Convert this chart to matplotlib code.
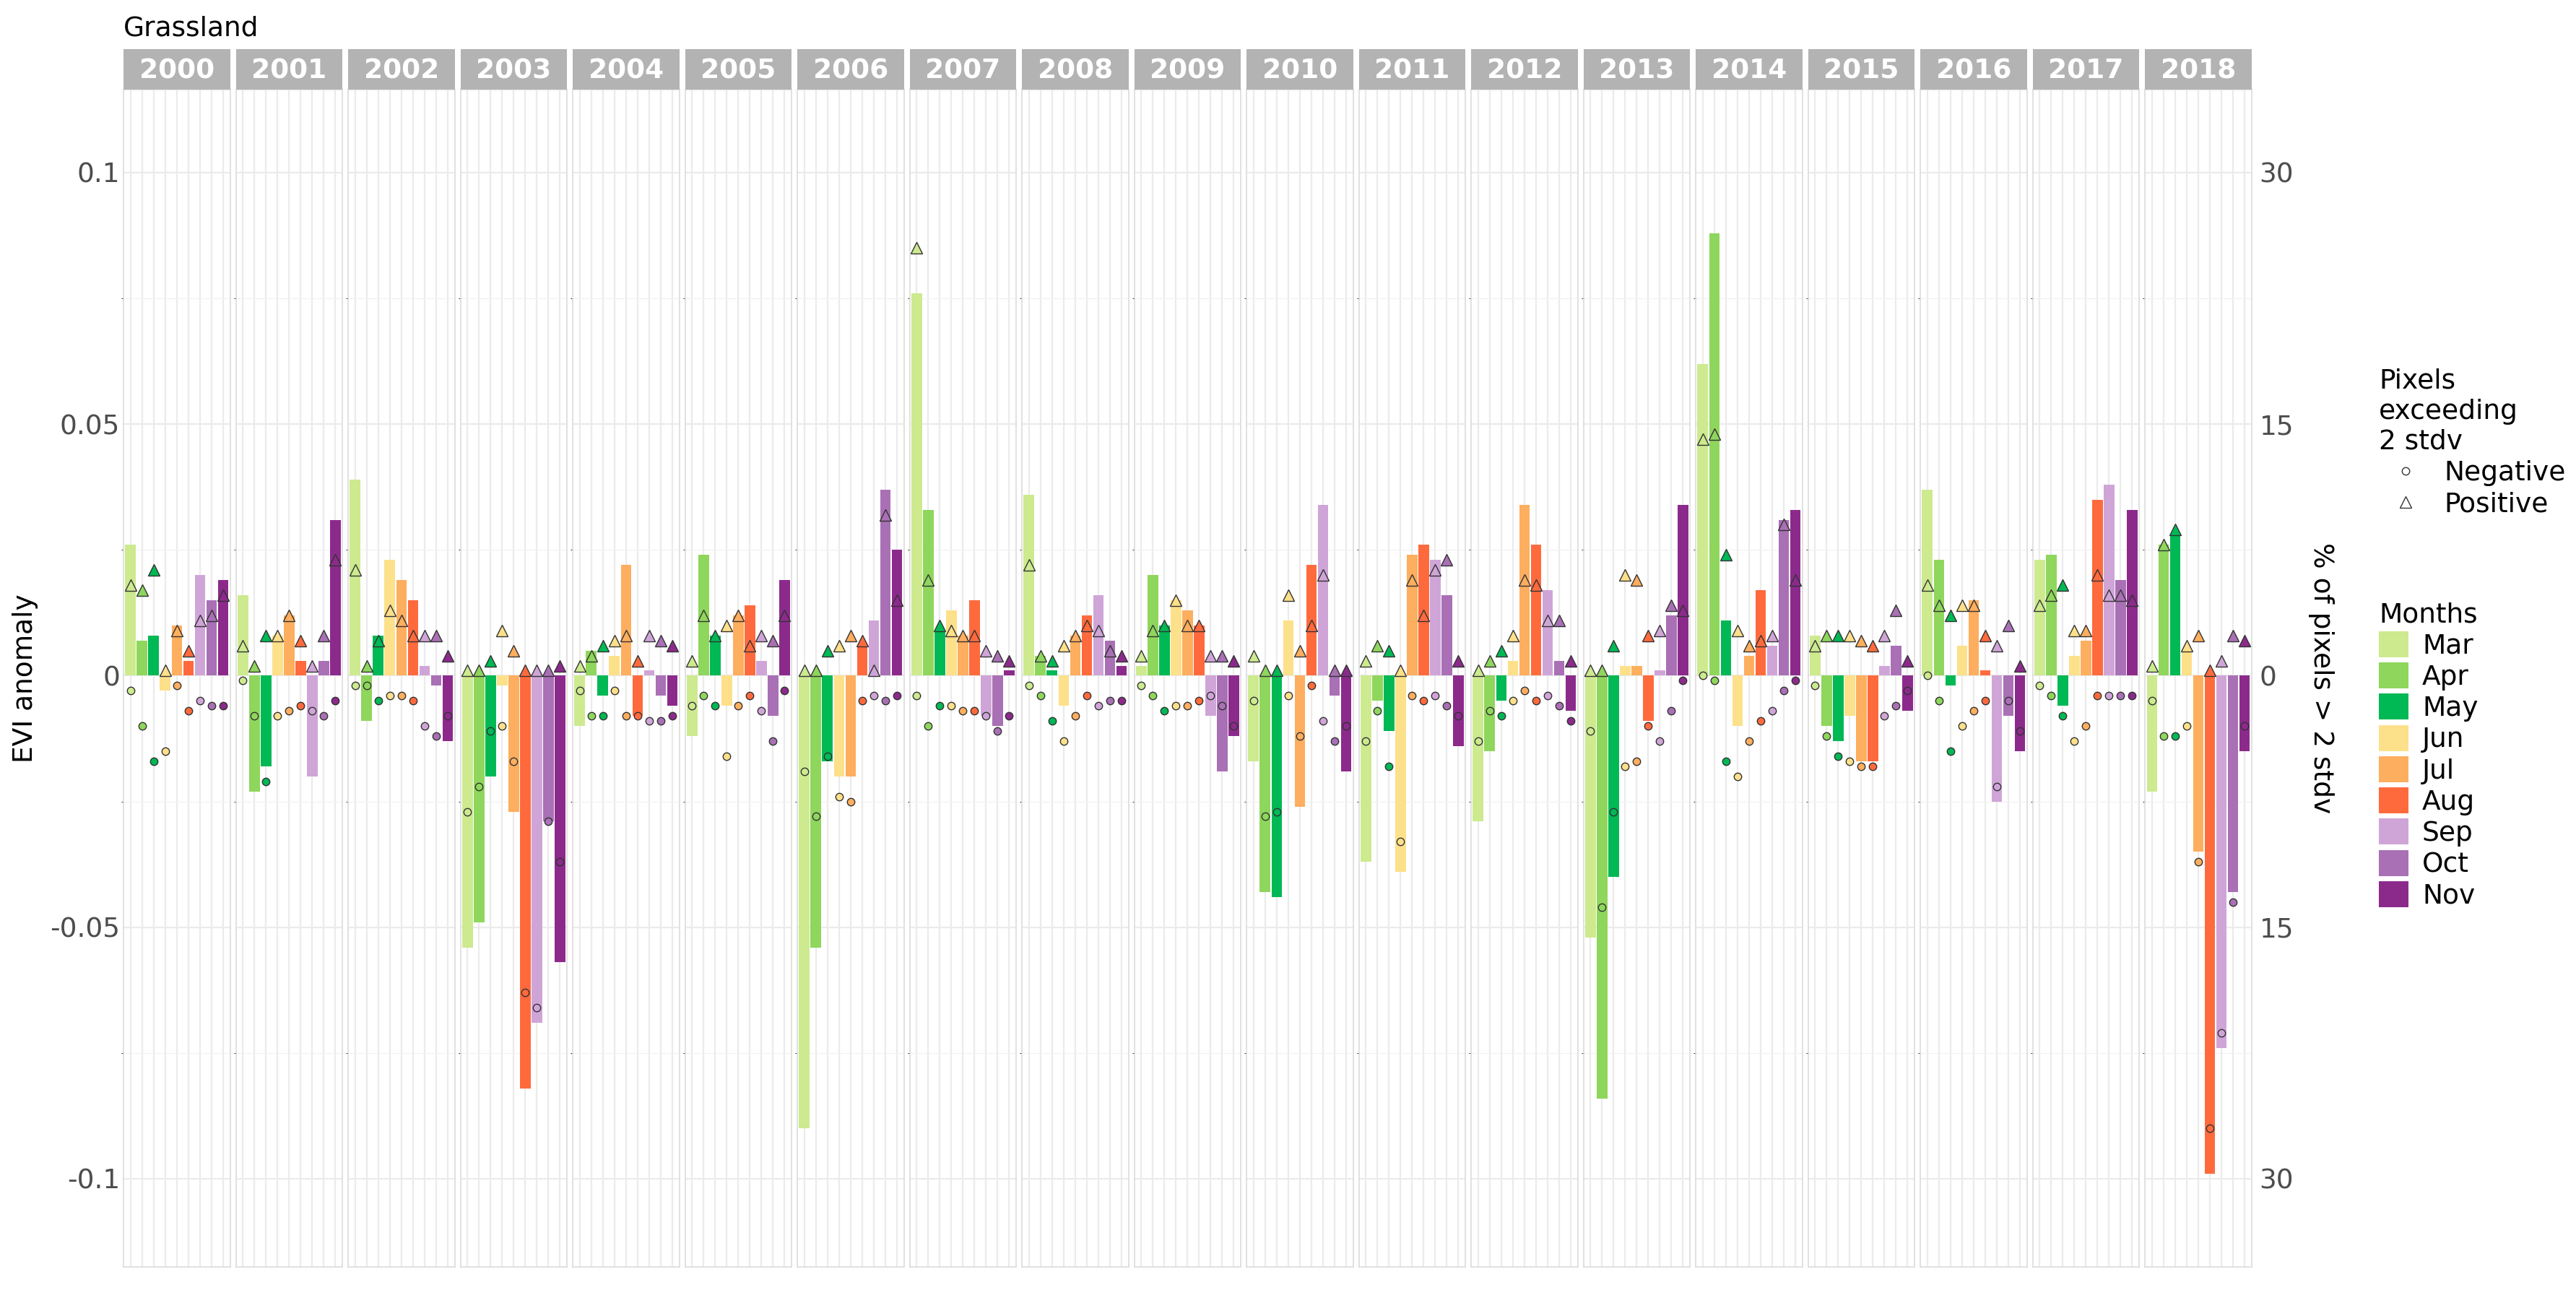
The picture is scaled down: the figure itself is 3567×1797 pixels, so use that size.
import matplotlib
matplotlib.use("Agg")
import matplotlib.pyplot as plt
import numpy as np
from matplotlib.lines import Line2D
from matplotlib.patches import Patch

years = list(range(2000, 2019))
months = ["Mar","Apr","May","Jun","Jul","Aug","Sep","Oct","Nov"]
colors = ["#cdea8f","#8fd65c","#00b854","#fde08a","#fdae5e","#ff6a3d","#cfa5d8","#a970b5","#8c2a8c"]

evi = {
2000:[0.026,0.007,0.008,-0.003,0.010,0.003,0.020,0.015,0.019],
2001:[0.016,-0.023,-0.018,0.008,0.012,0.003,-0.020,0.003,0.031],
2002:[0.039,-0.009,0.008,0.023,0.019,0.015,0.002,-0.002,-0.013],
2003:[-0.054,-0.049,-0.020,-0.002,-0.027,-0.082,-0.069,-0.029,-0.057],
2004:[-0.010,0.005,-0.004,0.004,0.022,-0.008,0.001,-0.004,-0.006],
2005:[-0.012,0.024,0.008,-0.006,0.012,0.014,0.003,-0.008,0.019],
2006:[-0.090,-0.054,-0.017,-0.020,-0.020,0.006,0.011,0.037,0.025],
2007:[0.076,0.033,0.009,0.013,0.008,0.015,-0.008,-0.010,0.001],
2008:[0.036,0.004,0.001,-0.006,0.008,0.012,0.016,0.007,0.002],
2009:[0.002,0.020,0.010,0.015,0.013,0.010,-0.008,-0.019,-0.012],
2010:[-0.017,-0.043,-0.044,0.011,-0.026,0.022,0.034,-0.004,-0.019],
2011:[-0.037,-0.005,-0.011,-0.039,0.024,0.026,0.023,0.016,-0.014],
2012:[-0.029,-0.015,-0.005,0.003,0.034,0.026,0.017,0.003,-0.007],
2013:[-0.052,-0.084,-0.040,0.002,0.002,-0.009,0.001,0.012,0.034],
2014:[0.062,0.088,0.011,-0.010,0.004,0.017,0.006,0.031,0.033],
2015:[0.008,-0.010,-0.013,-0.008,-0.017,-0.017,0.002,0.006,-0.007],
2016:[0.037,0.023,-0.002,0.006,0.015,0.001,-0.025,-0.008,-0.015],
2017:[0.023,0.024,-0.006,0.004,0.007,0.035,0.038,0.019,0.033],
2018:[-0.023,0.026,0.028,0.005,-0.035,-0.099,-0.074,-0.043,-0.015],
}
# % of pixels exceeding 2 stdv (positive)
pos_pct = {
2000:[5.4,5.1,6.3,0.3,2.7,1.5,3.3,3.6,4.8],
2001:[1.8,0.6,2.4,2.4,3.6,2.1,0.6,2.4,6.9],
2002:[6.3,0.6,2.1,3.9,3.3,2.4,2.4,2.4,1.2],
2003:[0.3,0.3,0.9,2.7,1.5,0.3,0.3,0.3,0.6],
2004:[0.6,1.2,1.8,2.1,2.4,0.9,2.4,2.1,1.8],
2005:[0.9,3.6,2.4,3.0,3.6,1.8,2.4,2.1,3.6],
2006:[0.3,0.3,1.5,1.8,2.4,2.1,0.3,9.6,4.5],
2007:[25.5,5.7,3.0,2.7,2.4,2.4,1.5,1.2,0.9],
2008:[6.6,1.2,0.9,1.8,2.4,3.0,2.7,1.5,1.2],
2009:[1.2,2.7,3.0,4.5,3.0,3.0,1.2,1.2,0.9],
2010:[1.2,0.3,0.3,4.8,1.5,3.0,6.0,0.3,0.3],
2011:[0.9,1.8,1.5,0.3,5.7,3.6,6.3,6.9,0.9],
2012:[0.3,0.9,1.5,2.4,5.7,5.4,3.3,3.3,0.9],
2013:[0.3,0.3,1.8,6.0,5.7,2.4,2.7,4.2,3.9],
2014:[14.1,14.4,7.2,2.7,1.8,2.1,2.4,9.0,5.7],
2015:[1.8,2.4,2.4,2.4,2.1,1.8,2.4,3.9,0.9],
2016:[5.4,4.2,3.6,4.2,4.2,2.4,1.8,3.0,0.6],
2017:[4.2,4.8,5.4,2.7,2.7,6.0,4.8,4.8,4.5],
2018:[0.6,7.8,8.7,1.8,2.4,0.3,0.9,2.4,2.1],
}
# % of pixels exceeding 2 stdv (negative)
neg_pct = {
2000:[0.9,3.0,5.1,4.5,0.6,2.1,1.5,1.8,1.8],
2001:[0.3,2.4,6.3,2.4,2.1,1.8,2.1,2.4,1.5],
2002:[0.6,0.6,1.5,1.2,1.2,1.5,3.0,3.6,2.4],
2003:[8.1,6.6,3.3,3.0,5.1,18.9,19.8,8.7,11.1],
2004:[0.9,2.4,2.4,0.9,2.4,2.4,2.7,2.7,2.4],
2005:[1.8,1.2,1.8,4.8,1.8,1.2,2.1,3.9,0.9],
2006:[5.7,8.4,4.8,7.2,7.5,1.5,1.2,1.5,1.2],
2007:[1.2,3.0,1.8,1.8,2.1,2.1,2.4,3.3,2.4],
2008:[0.6,1.2,2.7,3.9,2.4,1.2,1.8,1.5,1.5],
2009:[0.6,1.2,2.1,1.8,1.8,1.5,1.2,1.8,3.0],
2010:[1.5,8.4,8.1,1.2,3.6,0.6,2.7,3.9,3.0],
2011:[3.9,2.1,5.4,9.9,1.2,1.5,1.2,1.8,2.4],
2012:[3.9,2.1,2.4,1.5,0.9,1.5,1.2,1.8,2.7],
2013:[3.3,13.8,8.1,5.4,5.1,3.0,3.9,2.1,0.3],
2014:[0.0,0.3,5.1,6.0,3.9,2.7,2.1,0.9,0.3],
2015:[0.6,3.6,4.8,5.1,5.4,5.4,2.4,1.8,0.9],
2016:[0.0,1.5,4.5,3.0,2.1,1.5,6.6,1.5,3.3],
2017:[0.6,1.2,2.4,3.9,3.0,1.2,1.2,1.2,1.2],
2018:[1.5,3.6,3.6,3.0,11.1,27.0,21.3,13.5,3.0],
}

fs = 27
fig = plt.figure(figsize=(35.67, 17.97), dpi=100)
left, right, top, bottom = 0.048, 0.874, 0.931, 0.024
n = len(years)
gap = 0.0023
w = (right - left - gap*(n-1)) / n
ylim = (-0.1175, 0.1165)
x = np.arange(len(months))
for i, yr in enumerate(years):
    ax = fig.add_axes([left + i*(w+gap), bottom, w, top-bottom])
    ax.set_xlim(-0.6, 8.6)
    ax.set_ylim(*ylim)
    ax.set_xticks(x)
    ax.set_xticklabels([])
    ax.set_yticks([-0.1, -0.05, 0, 0.05, 0.1])
    ax.set_yticks([-0.075, -0.025, 0.025, 0.075], minor=True)
    ax.grid(True, which="major", color="#ebebeb", lw=1.6)
    ax.grid(True, which="minor", axis="y", color="#f2f2f2", lw=0.9)
    ax.set_axisbelow(True)
    for s in ax.spines.values():
        s.set_color("#dcdcdc"); s.set_linewidth(1.2)
    ax.tick_params(length=0, labelsize=fs, colors="#4d4d4d")
    ax.bar(x, evi[yr], width=0.92, color=colors, zorder=2)
    pv = np.array(pos_pct[yr]) / 300.0
    nv = -np.array(neg_pct[yr]) / 300.0
    for j in range(len(months)):
        ax.plot(x[j], pv[j], marker="^", ms=12, mfc=colors[j], mec="#333333", mew=1.0, zorder=3, ls="none")
        ax.plot(x[j], nv[j], marker="o", ms=7.5, mfc=colors[j], mec="#333333", mew=1.0, zorder=3, ls="none")
    if i == 0:
        ax.set_yticklabels(["-0.1", "-0.05", "0", "0.05", "0.1"])
        ax.set_ylabel("EVI anomaly", fontsize=fs, labelpad=12)
    else:
        ax.set_yticklabels([])
    if i == n-1:
        ax2 = ax.twinx()
        ax2.set_ylim(*ylim)
        ax2.set_yticks([-0.1, -0.05, 0, 0.05, 0.1])
        ax2.set_yticklabels(["30", "15", "0", "15", "30"])
        ax2.tick_params(length=0, labelsize=fs, colors="#4d4d4d", pad=8)
        for s in ax2.spines.values():
            s.set_visible(False)
        ax2.set_ylabel("% of pixels > 2 stdv", fontsize=fs, rotation=270, labelpad=40)
    # strip
    sax = fig.add_axes([left + i*(w+gap), top, w, 0.031])
    sax.set_facecolor("#b3b3b3")
    sax.set_xticks([]); sax.set_yticks([])
    for s in sax.spines.values():
        s.set_visible(False)
    sax.text(0.5, 0.45, str(yr), ha="center", va="center", color="white",
             fontsize=fs, fontweight="bold", transform=sax.transAxes)

fig.text(left, 0.968, "Grassland", fontsize=fs, ha="left", va="bottom")

h1 = [Line2D([], [], marker="o", ls="none", ms=7.5, mfc="white", mec="#333333"),
      Line2D([], [], marker="^", ls="none", ms=12, mfc="white", mec="#333333")]
leg1 = fig.legend(h1, ["Negative", "Positive"], title="Pixels\nexceeding\n2 stdv",
                  loc="upper left", bbox_to_anchor=(0.914, 0.735), frameon=False,
                  fontsize=fs, title_fontsize=fs, handletextpad=0.4, labelspacing=0.2)
leg1._legend_box.align = "left"
h2 = [Patch(facecolor=c) for c in colors]
leg2 = fig.legend(h2, months, title="Months", loc="upper left",
                  bbox_to_anchor=(0.914, 0.555), frameon=False, fontsize=fs,
                  title_fontsize=fs, handlelength=1.1, handleheight=1.1,
                  labelspacing=0.12, handletextpad=0.5)
leg2._legend_box.align = "left"
fig.savefig("out.png", dpi=100)
